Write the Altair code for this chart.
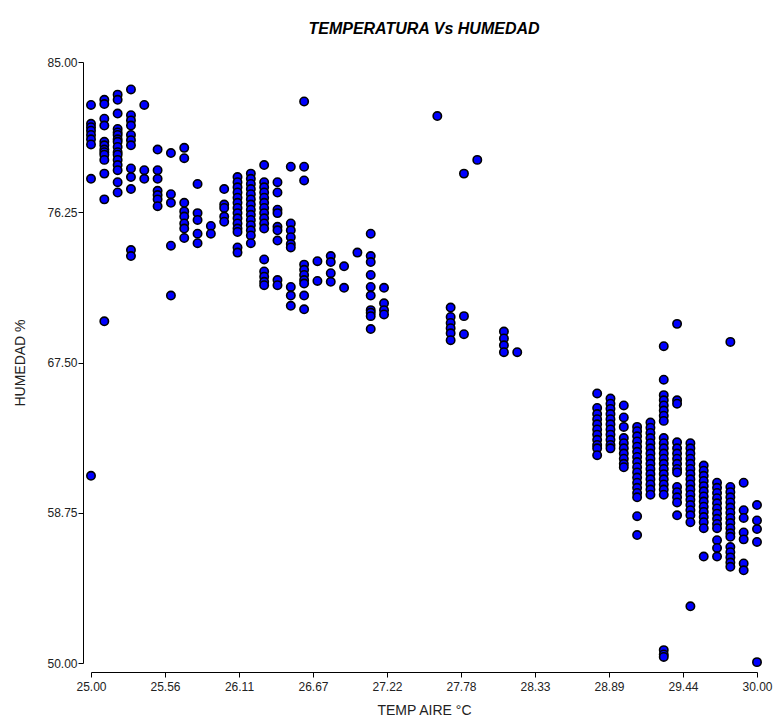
import altair as alt
import pandas as pd

# Temperatura del aire (°C) de cada columna de puntos
temp_aire = [25.0, 25.1, 25.2, 25.3, 25.4, 25.5, 25.6, 25.7, 25.8, 25.9,
             26.0, 26.1, 26.2, 26.3, 26.4, 26.5, 26.6, 26.7, 26.8, 26.9,
             27.0, 27.1, 27.2, 27.6, 27.7, 27.8, 27.9, 28.1, 28.2,
             28.8, 28.9, 29.0, 29.1, 29.2, 29.3, 29.4, 29.5, 29.6, 29.7,
             29.8, 29.9, 30.0]

# Humedad (%) observada en cada temperatura
humedad = [
    [82.5, 81.4, 81.2, 81.0, 80.75, 80.5, 80.2, 78.2, 60.9],
    [82.8, 82.55, 81.7, 81.3, 80.35, 80.15, 79.9, 79.75, 79.6, 79.3, 78.5, 77.0, 69.9],
    [83.1, 82.8, 82.0, 81.1, 80.9, 80.75, 80.5, 80.35, 80.05, 79.75, 79.6, 79.3, 79.0, 78.7, 78.0, 77.4],
    [83.4, 81.9, 81.6, 81.3, 80.75, 80.45, 80.15, 78.8, 78.3, 77.6, 74.05, 73.7],
    [82.5, 78.7, 78.2],
    [79.9, 78.7, 78.2, 77.5, 77.25, 77.0, 76.6],
    [79.7, 77.3, 76.8, 74.3, 71.4],
    [80.0, 79.4, 76.8, 76.3, 76.0, 75.6, 75.3, 74.75],
    [77.9, 76.2, 75.8, 75.0, 74.45],
    [75.45, 75.0],
    [77.6, 76.7, 76.5, 76.0, 75.7],
    [78.3, 78.0, 77.7, 77.4, 77.1, 76.8, 76.5, 76.2, 75.9, 75.6, 75.3, 75.1, 74.2, 73.9],
    [78.5, 78.2, 77.9, 77.6, 77.3, 77.0, 76.7, 76.4, 76.1, 75.8, 75.5, 75.2, 74.9, 74.45],
    [79.0, 78.0, 77.7, 77.4, 77.1, 76.8, 76.5, 76.2, 75.9, 75.6, 75.3, 73.5, 72.8, 72.5, 72.2, 72.0],
    [78.0, 77.4, 76.4, 76.2, 75.4, 75.2, 74.6, 72.3, 72.0],
    [78.9, 75.6, 75.2, 74.8, 74.4, 74.2, 71.9, 71.4, 70.8],
    [82.7, 78.9, 78.1, 73.2, 72.9, 72.6, 72.3, 72.1, 71.4, 70.6],
    [73.4, 72.25],
    [73.7, 73.35, 72.7, 72.2],
    [73.1, 71.85],
    [73.9],
    [75.0, 73.7, 73.35, 72.6, 71.9, 71.4, 70.55, 70.4, 70.2, 69.45],
    [71.85, 70.95, 70.55, 70.3],
    [81.85],
    [70.7, 70.15, 69.8, 69.5, 69.2, 68.8],
    [78.5, 70.2, 69.15],
    [79.3],
    [69.3, 68.9, 68.5, 68.1],
    [68.1],
    [65.7, 64.85, 64.5, 64.2, 63.9, 63.6, 63.3, 63.0, 62.7, 62.5, 62.1],
    [65.4, 65.1, 64.8, 64.5, 64.2, 63.9, 63.6, 63.3, 63.0, 62.7, 62.5],
    [65.0, 64.3, 63.75, 63.1, 62.8, 62.5, 62.2, 61.9, 61.6, 61.4],
    [63.75, 63.5, 63.2, 62.9, 62.6, 62.3, 62.0, 61.7, 61.4, 61.1, 60.8, 60.5, 60.2, 59.9, 59.65, 58.55, 57.45],
    [64.0, 63.7, 63.4, 63.1, 62.8, 62.5, 62.2, 61.9, 61.6, 61.3, 61.0, 60.7, 60.4, 60.1, 59.8],
    [68.45, 66.5, 65.6, 65.3, 65.0, 64.7, 64.4, 64.1, 63.1, 62.8, 62.5, 62.2, 61.9, 61.6, 61.3, 61.0,
     60.7, 60.4, 60.1, 59.8, 50.75, 50.5, 50.35],
    [69.75, 65.3, 65.1, 62.85, 62.5, 62.2, 61.9, 61.6, 61.3, 61.1, 60.25, 59.95, 59.65, 59.35, 58.6],
    [62.8, 62.5, 62.2, 61.9, 61.6, 61.3, 61.0, 60.7, 60.4, 60.1, 59.8, 59.5, 59.2, 58.9, 58.6, 58.2, 53.3],
    [61.5, 61.2, 60.9, 60.6, 60.3, 60.0, 59.7, 59.4, 59.1, 58.8, 58.5, 58.2, 57.85, 56.2],
    [60.5, 60.2, 59.9, 59.6, 59.3, 59.0, 58.7, 58.4, 58.1, 57.85, 57.15, 56.7, 56.2],
    [68.7, 60.25, 59.95, 59.65, 59.35, 59.05, 58.75, 58.45, 58.15, 57.85, 57.55, 57.35, 56.75, 56.45,
     56.15, 55.85, 55.6],
    [60.5, 58.9, 58.45, 57.6, 57.2, 55.8, 55.4],
    [59.2, 58.3, 57.8, 57.05, 50.05],
]

x_ticks = [25.0, 25.0 + 5 / 9, 25.0 + 10 / 9, 25.0 + 15 / 9, 25.0 + 20 / 9, 25.0 + 25 / 9,
           25.0 + 30 / 9, 25.0 + 35 / 9, 25.0 + 40 / 9, 30.0]
y_ticks = [50.0, 58.75, 67.5, 76.25, 85.0]

rows = []
for t, hs in zip(temp_aire, humedad):
    for h in hs:
        rows.append({"temp": t, "hum": h})
df = pd.DataFrame(rows)

FONT = "Liberation Sans"

chart = alt.Chart(df).mark_point(
    shape="circle", filled=True, fill="#0000FF", stroke="#000000",
    strokeWidth=1.6, size=70, opacity=1
).encode(
    x=alt.X("temp:Q", title="TEMP AIRE °C",
            scale=alt.Scale(domain=[25, 30], nice=False, zero=False),
            axis=alt.Axis(values=x_ticks, format=".2f", offset=9, grid=False,
                          tickSize=5, labelPadding=4, titlePadding=11,
                          labelFlush=False, labelOverlap=False)),
    y=alt.Y("hum:Q", title="HUMEDAD %",
            scale=alt.Scale(domain=[50, 85], nice=False, zero=False),
            axis=alt.Axis(values=y_ticks, format=".2f", offset=8, grid=False,
                          tickSize=5, labelPadding=1, titlePadding=19,
                          labelFlush=False, labelOverlap=False)),
).properties(
    width=666, height=601,
    autosize=alt.AutoSizeParams(type="none"),
    padding={"left": 83, "top": 54, "right": 17, "bottom": 56},
    title=alt.TitleParams("TEMPERATURA Vs HUMEDAD", anchor="middle", font=FONT,
                          fontSize=16, fontWeight="bold", fontStyle="italic",
                          color="#000000", offset=19),
).configure_view(
    stroke=None
).configure_axis(
    domainColor="#000000", tickColor="#000000", labelColor="#222222",
    titleColor="#222222", labelFont=FONT, titleFont=FONT, labelFontSize=12,
    titleFontSize=14, titleFontWeight="normal", domainWidth=1, tickWidth=1
)

chart.save("out.html", embed_options={"renderer": "svg", "actions": False})
